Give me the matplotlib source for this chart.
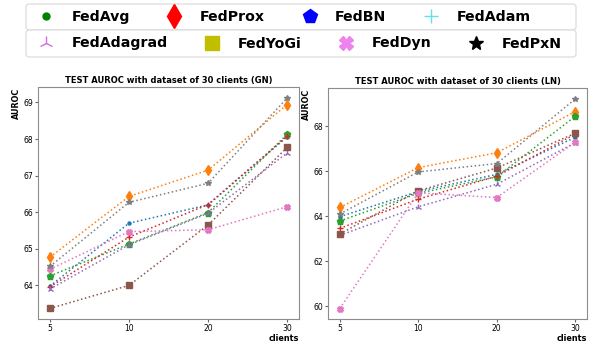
import matplotlib.pyplot as plt
from matplotlib.lines import Line2D
from matplotlib.patches import FancyBboxPatch

# x categories (number of clients)
clients = ['5', '10', '20', '30']
methods = ['FedAvg', 'FedProx', 'FedBN', 'FedAdam', 'FedAdagrad', 'FedYoGi', 'FedDyn', 'FedPxN']

# TEST AUROC, GN split
fedavg_gn = [63.98, 65.70, 66.20, 68.06]
fedprox_gn = [64.77, 66.43, 67.15, 68.94]
fedbn_gn = [64.26, 65.13, 65.99, 68.13]
fedadam_gn = [63.96, 65.32, 66.21, 68.08]
fedadagrad_gn = [63.90, 65.11, 65.97, 67.62]
fedyogi_gn = [63.37, 64.00, 65.65, 67.77]
feddyn_gn = [64.44, 65.47, 65.52, 66.15]
fedpxn_gn = [64.52, 66.27, 66.79, 69.12]

# TEST AUROC, LN split
fedavg_ln = [63.98, 65.10, 65.86, 67.51]
fedprox_ln = [64.39, 66.16, 66.82, 68.65]
fedbn_ln = [63.79, 65.02, 65.75, 68.44]
fedadam_ln = [63.46, 64.76, 65.78, 67.65]
fedadagrad_ln = [63.15, 64.42, 65.42, 67.27]
fedyogi_ln = [63.21, 65.13, 66.14, 67.69]
feddyn_ln = [59.90, 65.04, 64.83, 67.29]
fedpxn_ln = [64.10, 65.97, 66.34, 69.21]

gn = [fedavg_gn, fedprox_gn, fedbn_gn, fedadam_gn, fedadagrad_gn, fedyogi_gn, feddyn_gn, fedpxn_gn]
ln = [fedavg_ln, fedprox_ln, fedbn_ln, fedadam_ln, fedadagrad_ln, fedyogi_ln, feddyn_ln, fedpxn_ln]

plot_markers = ['o', 'd', 'p', '+', '2', 's', 'X', '*']
plot_ms = [2.2, 5.5, 4.5, 4.5, 4.5, 4.5, 4.0, 4.0]

leg_colors = ['green', 'red', 'blue', '#66e0e0', '#d070e0', '#bfbf00', 'violet', 'black']
leg_ms = [5, 12.5, 10, 10, 10, 10, 10, 10]

fig = plt.figure(figsize=(5.96, 3.43), dpi=100)
ax1 = fig.add_axes([38 / 596, 24 / 343, 261 / 596, 231.5 / 343])
ax2 = fig.add_axes([328 / 596, 24 / 343, 259 / 596, 230.5 / 343])

x = range(len(clients))
for ax, data, tag in [(ax1, gn, 'GN'), (ax2, ln, 'LN')]:
    for i, vals in enumerate(data):
        ax.plot(x, vals, linestyle=':', linewidth=1.1, marker=plot_markers[i],
                markersize=plot_ms[i], color='C%d' % i)
    ax.set_xticks(list(x))
    ax.set_xticklabels(clients)
    ax.set_title('TEST AUROC with dataset of 30 clients (%s)' % tag, fontsize=6,
                 fontweight='bold', pad=3)
    ax.set_ylabel('AUROC', fontsize=5.8, fontweight='bold', loc='top', labelpad=2)
    ax.set_xlabel('clients', fontsize=5.9, fontweight='bold', loc='right', labelpad=1)
    ax.tick_params(labelsize=5.5, length=2, pad=1.5, color='0.4')
    for s in ax.spines.values():
        s.set_color('0.55')
        s.set_linewidth(0.8)

ax2.set_yticks([60, 62, 64, 66, 68])

# legend: two rows, each its own box
handles = []
for i, m in enumerate(methods):
    handles.append(Line2D([], [], linestyle='none', marker=plot_markers[i], color=leg_colors[i],
                          markersize=leg_ms[i], markeredgewidth=1.0))

for row, (top, bottom) in enumerate([(4, 30), (30, 57)]):
    box = FancyBboxPatch((26 / 100, (343 - bottom) / 100), 550 / 100, (bottom - top) / 100,
                         boxstyle='round,pad=0,rounding_size=0.03',
                         transform=fig.dpi_scale_trans, facecolor='white',
                         edgecolor='0.85', linewidth=0.8)
    fig.patches.append(box)
    fig.legend(handles[row * 4:(row + 1) * 4], methods[row * 4:(row + 1) * 4],
               loc='center left', ncol=4, frameon=False,
               bbox_to_anchor=(26 / 596, 1 - ((top + bottom) / 2) / 343),
               borderaxespad=0, columnspacing=2.15, handletextpad=0.8,
               prop={'size': 10.2, 'weight': 'bold'})

fig.savefig('out.png', dpi=100)
